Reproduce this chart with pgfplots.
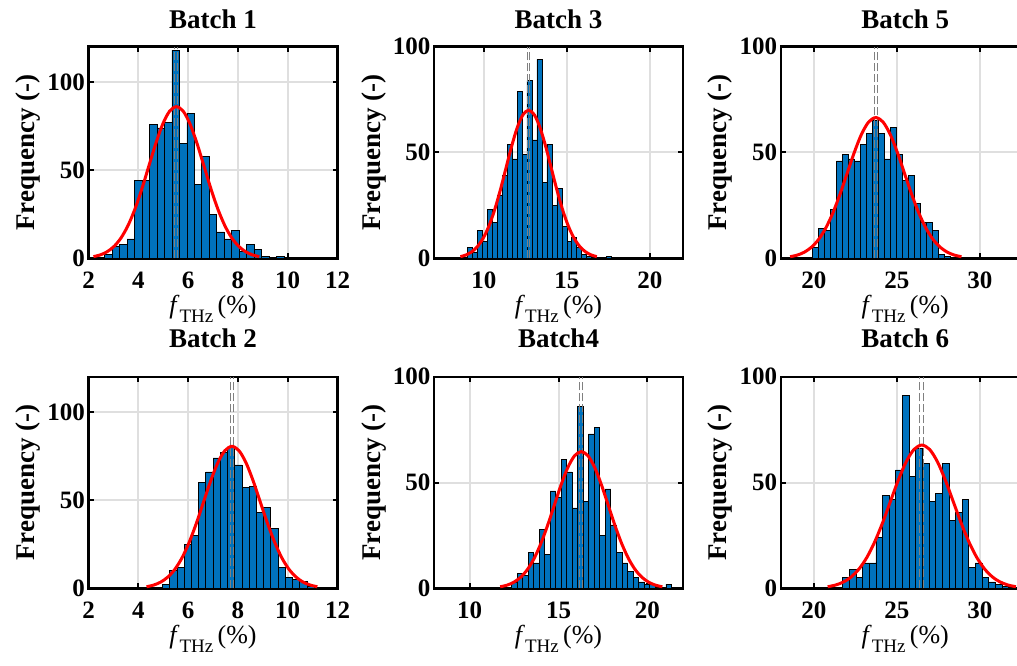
\documentclass[border=0pt]{standalone}
\usepackage{fontspec}
\setmainfont{Liberation Serif}
\usepackage{pgfplots}
\pgfplotsset{compat=1.18}
\definecolor{mblue}{RGB}{0,114,189}
\definecolor{gridgray}{RGB}{223,223,223}
\newcommand{\fl}{\textit{f}\raisebox{-0.32em}{\fontsize{19}{19}\selectfont THz}\,(\%)}
\pgfplotsset{
  hist/.style={
    scale only axis, width=249pt, height=211.6pt, anchor=south west,
    ymin=0, ytick={0,50,100},
    axis line style={line width=2.4pt, black},
    tick align=inside, tick pos=both,
    major tick length=5pt,
    major tick style={black, line width=2pt},
    grid=major, major grid style={line width=2pt, gridgray},
    /pgf/number format/assume math mode=true,
    ticklabel style={font=\fontsize{25}{25}\selectfont\bfseries},
    xticklabel style={yshift=-10pt},
    ylabel={Frequency (-)},
    ylabel style={font=\fontsize{27}{27}\selectfont\bfseries},
    xlabel={\fl},
    xlabel style={font=\fontsize{26}{26}\selectfont},
    title style={font=\fontsize{27}{27}\selectfont\bfseries, at={(0.5,1)}, anchor=base},
  },
  bars/.style={ybar interval, fill=mblue, draw=black, line width=0.6pt},
  fit/.style={red, line width=3pt, smooth},
  mline/.style={gray, line width=1pt, dash pattern=on 8pt off 3pt},
}
\begin{document}
\begin{tikzpicture}
% Batch 1
\begin{axis}[hist, at={(88.5pt,406.7pt)}, xmin=2, xmax=12, ymax=120, xtick={2,4,6,8,10,12},
  title={Batch 1}, title style={yshift=11.7pt}]
\addplot[bars] coordinates {(2.65,2) (2.95,7) (3.25,8) (3.55,11) (3.85,44) (4.15,44) (4.45,76) (4.75,74) (5.05,77) (5.35,118) (5.65,65) (5.95,82) (6.25,42) (6.55,58) (6.85,25) (7.15,15) (7.45,11) (7.75,16) (8.05,4) (8.35,8) (8.65,5) (8.95,1) (9.25,0) (9.55,1) (9.85,0)};
\addplot[mline] coordinates {(5.45,0) (5.45,120)};
\addplot[mline] coordinates {(5.56,0) (5.56,120)};
\addplot[fit] coordinates {(2.20,0.95) (2.478,1.96) (2.755,3.78) (3.033,6.85) (3.31,11.64) (3.588,18.60) (3.865,27.92) (4.143,39.37) (4.42,52.16) (4.698,64.91) (4.975,75.90) (5.253,83.35) (5.53,86) (5.808,83.35) (6.085,75.90) (6.363,64.91) (6.64,52.16) (6.918,39.37) (7.195,27.92) (7.473,18.60) (7.75,11.64) (8.028,6.85) (8.305,3.78) (8.583,1.96) (8.86,0.95)};
\end{axis}
% Batch 3
\begin{axis}[hist, at={(434pt,406.7pt)}, xmin=7, xmax=22, ymax=100, xtick={10,15,20},
  title={Batch 3}, title style={yshift=11.7pt}]
\addplot[bars] coordinates {(9.0,5) (9.3,3) (9.6,13) (9.9,8) (10.2,23) (10.5,17) (10.8,30) (11.1,39) (11.4,54) (11.7,47) (12.0,79) (12.3,49) (12.6,84) (12.9,56) (13.2,94) (13.5,36) (13.8,54) (14.1,25) (14.4,33) (14.7,15) (15.0,8) (15.3,10) (15.6,5) (15.9,2) (16.2,1) (16.5,0) (16.8,0) (17.1,0) (17.4,1) (17.7,0)};
\addplot[mline] coordinates {(12.62,0) (12.62,100)};
\addplot[mline] coordinates {(12.78,0) (12.78,100)};
\addplot[fit] coordinates {(8.59,0.78) (8.933,1.60) (9.275,3.07) (9.618,5.57) (9.96,9.47) (10.303,15.14) (10.645,22.73) (10.988,32.05) (11.33,42.46) (11.673,52.84) (12.015,61.78) (12.358,67.84) (12.7,70) (13.043,67.84) (13.385,61.78) (13.728,52.84) (14.07,42.46) (14.413,32.05) (14.755,22.73) (15.098,15.14) (15.44,9.47) (15.783,5.57) (16.125,3.07) (16.468,1.60) (16.81,0.78)};
\end{axis}
% Batch 5
\begin{axis}[hist, at={(780.7pt,406.7pt)}, xmin=18, xmax=33, ymax=100, xtick={20,25,30},
  title={Batch 5}, title style={yshift=11.7pt}]
\addplot[bars] coordinates {(19.93,5) (20.29,14) (20.65,13) (21.01,23) (21.37,46) (21.73,49) (22.09,47) (22.45,46) (22.81,54) (23.17,59) (23.53,65) (23.89,59) (24.25,47) (24.61,62) (24.97,49) (25.33,37) (25.69,39) (26.05,26) (26.41,17) (26.77,17) (27.13,13) (27.49,2) (27.85,1) (28.21,0)};
\addplot[mline] coordinates {(23.64,0) (23.64,100)};
\addplot[mline] coordinates {(23.82,0) (23.82,100)};
\addplot[fit] coordinates {(18.57,0.74) (19.00,1.52) (19.43,2.92) (19.86,5.29) (20.29,9.00) (20.72,14.38) (21.15,21.59) (21.58,30.44) (22.01,40.33) (22.44,50.19) (22.87,58.69) (23.30,64.45) (23.73,66.5) (24.16,64.45) (24.59,58.69) (25.02,50.19) (25.45,40.33) (25.88,30.44) (26.31,21.59) (26.74,14.38) (27.17,9.00) (27.60,5.29) (28.03,2.92) (28.46,1.52) (28.89,0.74)};
\end{axis}
% Batch 2
\begin{axis}[hist, at={(88.5pt,76.7pt)}, xmin=2, xmax=12, ymax=120, xtick={2,4,6,8,10,12},
  title={Batch 2}, title style={yshift=23.4pt}]
\addplot[bars] coordinates {(4.97,2) (5.26,10) (5.55,12) (5.84,25) (6.13,30) (6.42,60) (6.71,66) (7.00,74) (7.29,77) (7.58,80) (7.87,70) (8.16,57) (8.45,58) (8.74,43) (9.03,46) (9.32,34) (9.61,12) (9.90,6) (10.19,5) (10.48,4) (10.77,1) (11.06,0)};
\addplot[mline] coordinates {(7.69,0) (7.69,120)};
\addplot[mline] coordinates {(7.83,0) (7.83,120)};
\addplot[fit] coordinates {(4.331,0.89) (4.617,1.84) (4.902,3.53) (5.188,6.41) (5.474,10.89) (5.76,17.41) (6.045,26.14) (6.331,36.85) (6.617,48.82) (6.903,60.76) (7.188,71.04) (7.474,78.02) (7.76,80.5) (8.046,78.02) (8.332,71.04) (8.617,60.76) (8.903,48.82) (9.189,36.85) (9.475,26.14) (9.76,17.41) (10.046,10.89) (10.332,6.41) (10.618,3.53) (10.903,1.84) (11.189,0.89)};
\end{axis}
% Batch 4
\begin{axis}[hist, at={(434pt,76.7pt)}, xmin=8, xmax=22, ymax=100, xtick={10,15,20},
  title={Batch4}, title style={yshift=23.4pt}]
\addplot[bars] coordinates {(12.36,3) (12.67,7) (12.98,6) (13.29,17) (13.60,12) (13.91,28) (14.22,16) (14.53,46) (14.84,43) (15.15,61) (15.46,55) (15.77,38) (16.08,86) (16.39,41) (16.70,73) (17.01,76) (17.32,25) (17.63,47) (17.94,30) (18.25,17) (18.56,12) (18.87,8) (19.18,5) (19.49,3) (19.80,2) (20.11,2) (20.42,0) (20.73,0) (21.04,2) (21.35,0)};
\addplot[mline] coordinates {(16.2,0) (16.2,100)};
\addplot[mline] coordinates {(16.35,0) (16.35,100)};
\addplot[fit] coordinates {(11.72,0.72) (12.10,1.47) (12.48,2.84) (12.86,5.14) (13.24,8.74) (13.62,13.97) (14.00,20.98) (14.38,29.57) (14.76,39.18) (15.14,48.76) (15.52,57.01) (15.90,62.61) (16.28,64.6) (16.66,62.61) (17.04,57.01) (17.42,48.76) (17.80,39.18) (18.18,29.57) (18.56,20.98) (18.94,13.97) (19.32,8.74) (19.70,5.14) (20.08,2.84) (20.46,1.47) (20.84,0.72)};
\end{axis}
% Batch 6
\begin{axis}[hist, at={(780.7pt,76.7pt)}, xmin=18, xmax=33, ymax=100, xtick={20,25,30},
  title={Batch 6}, title style={yshift=23.4pt}]
\addplot[bars] coordinates {(21.73,5) (22.13,9) (22.53,5) (22.93,12) (23.33,12) (23.73,24) (24.13,44) (24.53,42) (24.93,56) (25.33,91) (25.73,53) (26.13,66) (26.53,59) (26.93,41) (27.33,45) (27.73,59) (28.13,32) (28.53,36) (28.93,42) (29.33,10) (29.73,12) (30.13,5) (30.53,3) (30.93,2) (31.33,1) (31.73,0)};
\addplot[mline] coordinates {(26.35,0) (26.35,100)};
\addplot[mline] coordinates {(26.59,0) (26.59,100)};
\addplot[fit] coordinates {(20.83,0.75) (21.303,1.54) (21.775,2.97) (22.248,5.39) (22.72,9.16) (23.193,14.64) (23.665,21.98) (24.138,30.99) (24.61,41.06) (25.083,51.10) (25.555,59.75) (26.028,65.61) (26.5,67.7) (26.973,65.61) (27.445,59.75) (27.918,51.10) (28.39,41.06) (28.863,30.99) (29.335,21.98) (29.808,14.64) (30.28,9.16) (30.753,5.39) (31.225,2.97) (31.698,1.54) (32.17,0.75)};
\end{axis}
\pgfresetboundingbox
\useasboundingbox (0,0) rectangle (1017pt,665pt);
\end{tikzpicture}
\end{document}
